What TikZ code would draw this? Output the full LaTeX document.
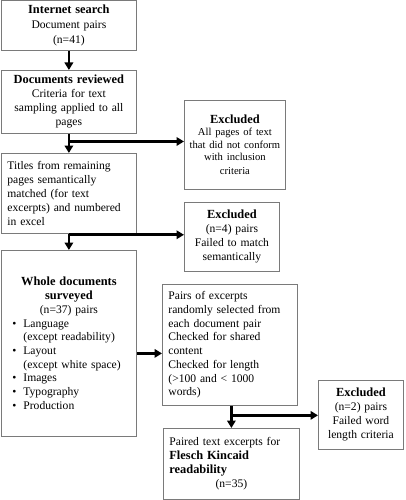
\documentclass[tikz,border=0pt]{standalone}
\usepackage{fontspec}
\setmainfont{Liberation Serif}
\usetikzlibrary{arrows.meta}
\definecolor{boxgray}{HTML}{7A7A7A}
\newcommand{\mfs}{\fontsize{11.6}{14}\selectfont}
\newcommand{\sfsz}{\fontsize{10.6}{12.5}\selectfont}
\newcommand{\hd}[1]{{\fontsize{12.4}{14}\selectfont\bfseries #1}}
\tikzset{
  box/.style={draw=boxgray, line width=0.8pt, inner xsep=7pt, inner ysep=2pt,
    font=\mfs, text=black, anchor=north west},
  arr/.style={line width=2.7pt, -{Triangle[length=7.5pt,width=8.5pt]}}
}
\begin{document}
\begin{tikzpicture}[x=1pt,y=-1pt]
\useasboundingbox (0,0) rectangle (405,500);
\node[box, minimum width=135pt, minimum height=50pt, text width=121pt, align=center] (b1) at (1,0)
  {\hd{Internet search}\\[1pt]Document pairs\\[1pt](n=41)};
\node[box, minimum width=135pt, minimum height=63pt, text width=121pt, align=center] (b2) at (1,70)
  {\hd{Documents reviewed}\\Criteria for text\\sampling applied to all\\pages};
\node[box, minimum width=101pt, minimum height=89pt, text width=95pt, inner xsep=3pt, align=center] (b3) at (184,100)
  {\hd{Excluded}\\\sfsz All pages of text\\that did not conform\\with inclusion\\criteria};
\node[box, minimum width=135pt, minimum height=80pt, text width=123pt, inner xsep=6pt, align=left] (b4) at (1,153)
  {Titles from remaining\\pages semantically\\matched (for text\\excerpts) and numbered\\in excel};
\node[box, minimum width=95pt, minimum height=69pt, text width=89pt, inner xsep=3pt, align=center] (b5) at (184,202)
  {\hd{Excluded}\\(n=4) pairs\\Failed to match\\semantically};
\node[box, minimum width=135pt, minimum height=186pt, text width=121pt, align=left, font=\fontsize{11.6}{13.7}\selectfont] (b6) at (1,250)
  {\makebox[121pt][c]{\hd{Whole documents}}\\
   \makebox[121pt][c]{\hd{surveyed}}\\
   \makebox[121pt][c]{(n=37) pairs}\\
   \hspace*{4pt}\makebox[11pt][l]{\textbullet}Language\\
   \hspace*{15pt}(except readability)\\
   \hspace*{4pt}\makebox[11pt][l]{\textbullet}Layout\\
   \hspace*{15pt}(except white space)\\
   \hspace*{4pt}\makebox[11pt][l]{\textbullet}Images\\
   \hspace*{4pt}\makebox[11pt][l]{\textbullet}Typography\\
   \hspace*{4pt}\makebox[11pt][l]{\textbullet}Production};
\node[box, minimum width=135pt, minimum height=121pt, text width=123pt, inner xsep=6pt, align=left, font=\fontsize{11.6}{13.7}\selectfont] (b7) at (162,284)
  {Pairs of excerpts\\randomly selected from\\each document pair\\Checked for shared\\content\\Checked for length\\(>100 and < 1000\\words)};
\node[box, minimum width=85pt, minimum height=69pt, text width=83pt, inner xsep=1pt, align=center] (b8) at (318,380)
  {\hd{Excluded}\\(n=2) pairs\\Failed word\\length criteria};
\node[box, minimum width=136pt, minimum height=71pt, text width=124pt, inner xsep=6pt, align=left] (b9) at (163,428)
  {Paired text excerpts for\\\hd{Flesch Kincaid}\\\hd{readability}\\\makebox[124pt][c]{(n=35)}};
% connectors
\draw[arr] (b1.south) -- (b2.north);
\draw[arr] (b2.south) -- (b4.north);
\path (b2.south) -- (b4.north) coordinate[pos=0.4] (j1);
\draw[arr] (j1) -- (j1 -| b3.west);
\draw[arr] (b4.south) -- (b6.north);
\path (b4.south) -- (b6.north) coordinate[pos=0.06] (j2);
\draw[arr] (j2) -- (j2 -| b5.west);
\coordinate (j3) at ([yshift=-10pt]b6.east);
\draw[arr] (j3) -- (j3 -| b7.west);
\draw[arr] (b9.north |- b7.south) -- (b9.north);
\path (b9.north |- b7.south) -- (b9.north) coordinate[pos=0.43] (j4);
\draw[arr] (j4) -- (j4 -| b8.west);
\end{tikzpicture}
\end{document}
